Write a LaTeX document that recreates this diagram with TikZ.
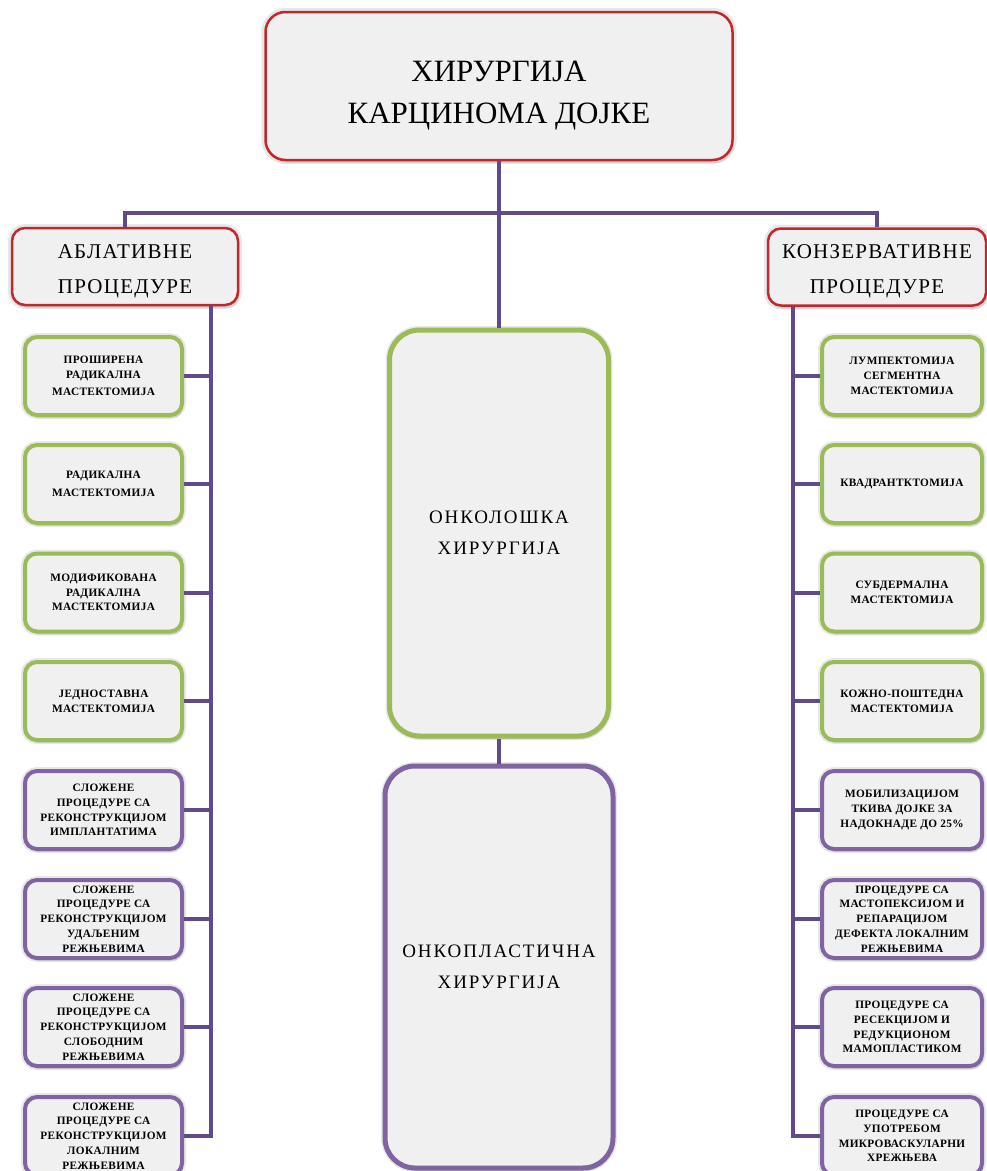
\documentclass[tikz,border=0pt]{standalone}
\usepackage{fontspec}
\setmainfont{Liberation Serif}
\newfontfamily\boxfont[LetterSpace=3]{Liberation Serif}
\newfontfamily\headfont[LetterSpace=6]{Liberation Serif}
\newfontfamily\centfont[LetterSpace=10]{Liberation Serif}
\usetikzlibrary{shadows}
\definecolor{redb}{HTML}{C0282D}
\definecolor{greenb}{HTML}{9BBB59}
\definecolor{purpb}{HTML}{8064A2}
\definecolor{connc}{HTML}{604A8B}
\definecolor{boxfill}{HTML}{F0F0F0}
\tikzset{
  base/.style={fill=boxfill, align=center, inner sep=0pt,
    preaction={draw=black, draw opacity=0.09, line width=8pt},
    drop shadow={shadow xshift=1.5pt, shadow yshift=-3pt, opacity=0.22}},
  topbox/.style={base, draw=redb, line width=2.5pt, rounded corners=20pt,
    minimum width=467pt, minimum height=148pt,
    font=\fontsize{31}{42}\selectfont},
  headbox/.style={base, draw=redb, line width=2.5pt, rounded corners=13pt,
    minimum height=77pt, font=\headfont\fontsize{21}{35}\selectfont},
  gbox/.style={base, draw=greenb, line width=4pt, rounded corners=12pt,
    minimum height=78pt, font=\boxfont\bfseries\fontsize{11.3}{14.8}\selectfont},
  pbox/.style={gbox, draw=purpb},
  lbox/.style={minimum width=157pt},
  rbox/.style={minimum width=160pt},
  bigbox/.style={base, line width=5pt, rounded corners=30pt,
    font=\centfont\fontsize{19}{31}\selectfont},
  conn/.style={draw=connc, line width=4pt}
}
\begin{document}
\begin{tikzpicture}[x=1pt,y=-1pt]
\useasboundingbox (0,0) rectangle (987,1171);
\clip (0,0) rectangle (987,1171);
\fill[white] (0,0) rectangle (987,1171);

\coordinate (bar) at (0,213);
\coordinate (lspine) at (211,0);
\coordinate (rspine) at (793,0);

% boxes
\node[topbox] (T) at (499,86) {\rule{0pt}{40pt}ХИРУРГИЈА\\КАРЦИНОМА ДОЈКЕ};
\node[headbox, minimum width=226pt] (LH) at (125,266.5) {\rule{0pt}{23pt}АБЛАТИВНЕ\\ПРОЦЕДУРЕ};
\node[headbox, minimum width=218pt] (RH) at (877,267) {\rule{0pt}{23pt}КОНЗЕРВАТИВНЕ\\ПРОЦЕДУРЕ};

\node[bigbox, draw=greenb, minimum width=219pt, minimum height=406pt] (C1) at (499,533) {ОНКОЛОШКА\\ХИРУРГИЈА};
\node[bigbox, draw=purpb, minimum width=228pt, minimum height=402pt] (C2) at (499,967) {ОНКОПЛАСТИЧНА\\ХИРУРГИЈА};

% left column
\node[gbox, lbox] (l1) at (103.5,376) {ПРОШИРЕНА\\РАДИКАЛНА\\[3pt]МАСТЕКТОМИЈА};
\node[gbox, lbox] (l2) at (103.5,484) {РАДИКАЛНА\\[3pt]МАСТЕКТОМИЈА};
\node[gbox, lbox] (l3) at (103.5,592.5) {МОДИФИКОВАНА\\РАДИКАЛНА\\МАСТЕКТОМИЈА};
\node[gbox, lbox] (l4) at (103.5,701) {ЈЕДНОСТАВНА\\МАСТЕКТОМИЈА};
\node[pbox, lbox] (l5) at (103.5,810) {СЛОЖЕНЕ\\ПРОЦЕДУРЕ СА\\РЕКОНСТРУКЦИЈОМ\\ИМПЛАНТАТИМА};
\node[pbox, lbox] (l6) at (103.5,919) {СЛОЖЕНЕ\\ПРОЦЕДУРЕ СА\\РЕКОНСТРУКЦИЈОМ\\УДАЉЕНИМ\\РЕЖЊЕВИМА};
\node[pbox, lbox] (l7) at (103.5,1027) {СЛОЖЕНЕ\\ПРОЦЕДУРЕ СА\\РЕКОНСТРУКЦИЈОМ\\СЛОБОДНИМ\\РЕЖЊЕВИМА};
\node[pbox, lbox] (l8) at (103.5,1136) {СЛОЖЕНЕ\\ПРОЦЕДУРЕ СА\\РЕКОНСТРУКЦИЈОМ\\ЛОКАЛНИМ\\РЕЖЊЕВИМА};

% right column
\node[gbox, rbox] (r1) at (902,376) {ЛУМПЕКТОМИЈА\\СЕГМЕНТНА\\МАСТЕКТОМИЈА};
\node[gbox, rbox] (r2) at (902,484) {КВАДРАНТКТОМИЈА};
\node[gbox, rbox] (r3) at (902,592.5) {СУБДЕРМАЛНА\\МАСТЕКТОМИЈА};
\node[gbox, rbox] (r4) at (902,701) {КОЖНО-ПОШТЕДНА\\МАСТЕКТОМИЈА};
\node[pbox, rbox] (r5) at (902,810) {МОБИЛИЗАЦИЈОМ\\ТКИВА ДОЈКЕ ЗА\\НАДОКНАДЕ ДО 25\%};
\node[pbox, rbox] (r6) at (902,919) {ПРОЦЕДУРЕ СА\\МАСТОПЕКСИЈОМ И\\РЕПАРАЦИЈОМ\\ДЕФЕКТА ЛОКАЛНИМ\\РЕЖЊЕВИМА};
\node[pbox, rbox] (r7) at (902,1027) {ПРОЦЕДУРЕ СА\\РЕСЕКЦИЈОМ И\\РЕДУКЦИОНОМ\\МАМОПЛАСТИКОМ};
\node[pbox, rbox] (r8) at (902,1136) {ПРОЦЕДУРЕ СА\\УПОТРЕБОМ\\МИКРОВАСКУЛАРНИ\\ХРЕЖЊЕВА};

% connectors
\draw[conn] (T.south) -- (C1.north);
\draw[conn] (C1.south) -- (C2.north);
\draw[conn] (LH.north) -- (LH.north |- bar) -- (RH.north |- bar) -- (RH.north);
\draw[conn] (LH.south -| lspine) -- (l8.east -| lspine) -- (l8.east);
\draw[conn] (RH.south -| rspine) -- (r8.west -| rspine) -- (r8.west);
\foreach \i in {1,...,7} {
  \draw[conn] (l\i.east) -- (l\i.east -| lspine);
  \draw[conn] (r\i.west) -- (r\i.west -| rspine);
}
\end{tikzpicture}
\end{document}
